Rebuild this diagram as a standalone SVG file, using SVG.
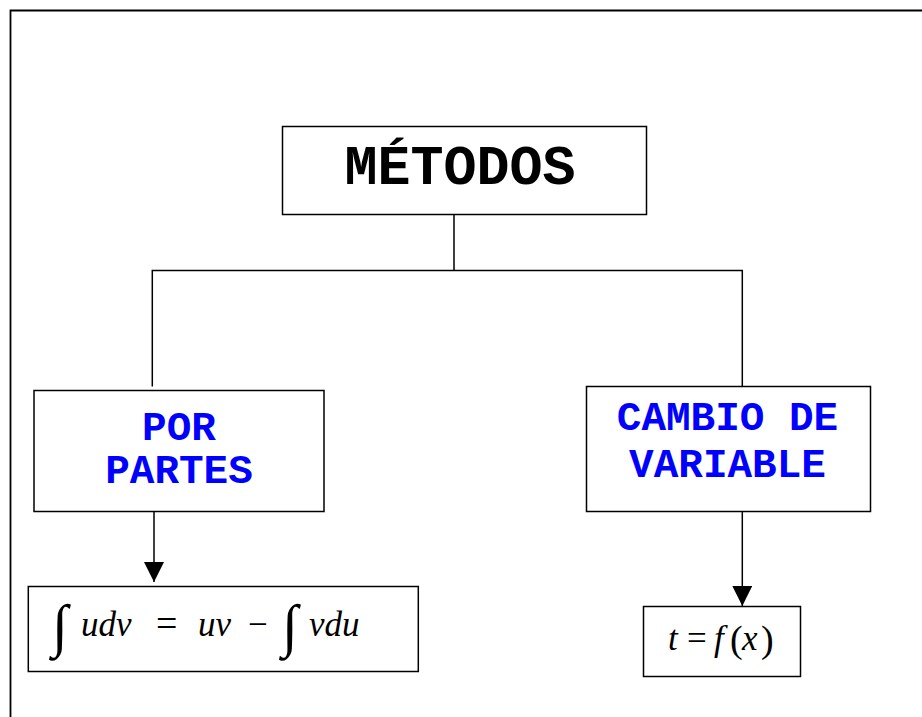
<svg xmlns="http://www.w3.org/2000/svg" width="922" height="717" viewBox="0 0 922 717">
<defs>
<style>
.box{fill:#fff;stroke:#000;stroke-width:1.5}
.t{font-family:"Liberation Mono","Courier New",monospace;font-weight:bold;text-anchor:middle}
.blue{fill:#0000ff;font-size:41px}
.m{font-family:"Liberation Serif","Times New Roman",serif;font-size:35px}
.i{font-style:italic}
.ln{fill:none;stroke:#000;stroke-width:1.5}
</style>
<marker id="arr" viewBox="0 0 20 20" refX="20" refY="10" markerWidth="20" markerHeight="20" orient="auto" markerUnits="userSpaceOnUse">
<path d="M0,0 L20,10 L0,20 Z" fill="#000"/>
</marker>
</defs>
<rect width="922" height="717" fill="#fff"/>
<path d="M10.5,730 V10.5 H930" fill="none" stroke="#000" stroke-width="1.8"/>
<g id="connectors">
<path class="ln" d="M454,212 V270.5 M152.3,386.5 V270.5 H742.3 V386"/>
<path class="ln" d="M154,512 V582" marker-end="url(#arr)"/>
<path class="ln" d="M742.3,512 V606" marker-end="url(#arr)"/>
</g>
<g id="metodos">
<rect class="box" x="282.5" y="126.5" width="364" height="88"/>
<text class="t" x="460" y="184" font-size="55">MÉTODOS</text>
</g>
<g id="por-partes">
<rect class="box" x="34" y="390.5" width="290" height="121"/>
<text class="t blue" x="179" y="440">POR</text>
<text class="t blue" x="179" y="483">PARTES</text>
</g>
<g id="cambio-variable">
<rect class="box" x="586.5" y="386.5" width="284" height="125"/>
<text class="t blue" x="727.5" y="430">CAMBIO DE</text>
<text class="t blue" x="727.5" y="476.5">VARIABLE</text>
</g>
<g id="formula-partes">
<rect class="box" x="28.3" y="586.5" width="390" height="85"/>
<text class="m" y="636"><tspan x="52" font-size="58" dy="9">∫</tspan><tspan class="i" x="81" dy="-9">udv</tspan><tspan x="156" font-size="38">=</tspan><tspan class="i" x="198">uv</tspan><tspan x="248">−</tspan><tspan x="282" font-size="58" dy="9">∫</tspan><tspan class="i" x="309" dy="-9">vdu</tspan></text>
</g>
<g id="formula-cambio">
<rect class="box" x="643.5" y="606.5" width="157" height="70"/>
<text class="m" y="650" font-size="32"><tspan class="i" x="668">t</tspan><tspan x="687">=</tspan><tspan class="i" x="714">f</tspan><tspan x="730" font-size="38" dy="2">(</tspan><tspan class="i" x="742" dy="-2">x</tspan><tspan x="761" font-size="38" dy="2">)</tspan></text>
</g>
</svg>
